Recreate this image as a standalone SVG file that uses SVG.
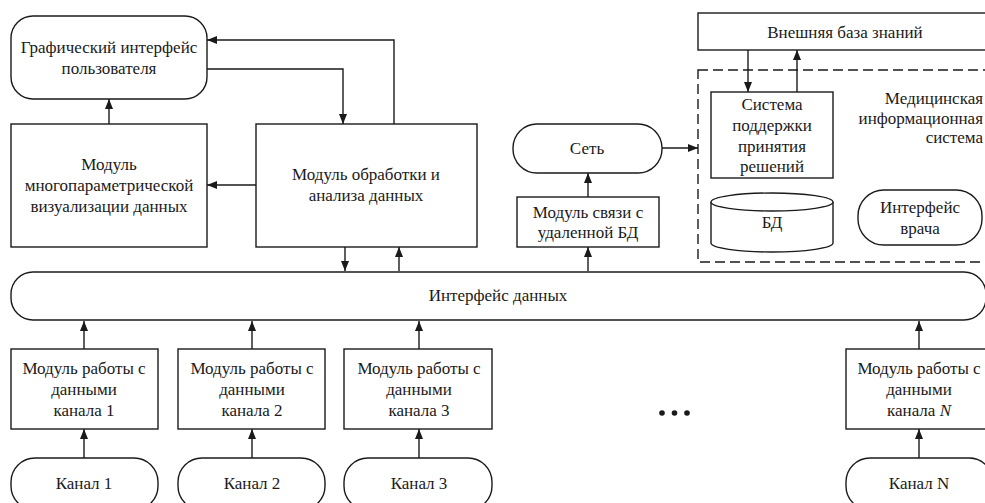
<svg xmlns="http://www.w3.org/2000/svg" width="985" height="503" viewBox="0 0 985 503">
<defs>
<marker id="ah" viewBox="0 0 10 8" refX="10" refY="4" markerWidth="10" markerHeight="8" markerUnits="userSpaceOnUse" orient="auto">
<path d="M0,0 L10,4 L0,8 Z" fill="#1a1a1a"/>
</marker>
<style>
.b{fill:#fff;stroke:#1a1a1a;stroke-width:1.4}
.d{fill:none;stroke:#1a1a1a;stroke-width:1.4;stroke-dasharray:10 5}
.c{fill:none;stroke:#1a1a1a;stroke-width:1.4;marker-end:url(#ah)}
text{font-family:"Liberation Serif","Times New Roman",serif;font-size:17px;fill:#1a1a1a;text-anchor:middle}
.e{text-anchor:end}
</style>
</defs>
<rect width="985" height="503" fill="#fff"/>
<g id="connectors">
<path class="c" d="M394,124 V40 H207"/>
<path class="c" d="M207,69 H343 V124"/>
<path class="c" d="M109,124 V99"/>
<path class="c" d="M256,185 H207"/>
<path class="c" d="M345,247 V271"/>
<path class="c" d="M399,271 V247"/>
<path class="c" d="M588,271 V247"/>
<path class="c" d="M588,197 V173"/>
<path class="c" d="M662,148 H698"/>
<path class="c" d="M748,50 V92"/>
<path class="c" d="M797,92 V50"/>
<path class="c" d="M84,349 V321"/>
<path class="c" d="M252,349 V321"/>
<path class="c" d="M419,349 V321"/>
<path class="c" d="M919,349 V321"/>
<path class="c" d="M84,458 V429"/>
<path class="c" d="M252,458 V429"/>
<path class="c" d="M419,458 V429"/>
<path class="c" d="M919,458 V429"/>
</g>
<g id="gui">
<rect class="b" x="11" y="16" width="196" height="83" rx="22"/>
<text x="109" y="53">Графический интерфейс</text>
<text x="109" y="74">пользователя</text>
</g>
<g id="vis">
<rect class="b" x="11" y="124" width="196" height="123"/>
<text x="109" y="170">Модуль</text>
<text x="109" y="191">многопараметрической</text>
<text x="109" y="212">визуализации данных</text>
</g>
<g id="proc">
<rect class="b" x="256" y="124" width="221" height="123"/>
<text x="366" y="180">Модуль обработки и</text>
<text x="366" y="201">анализа данных</text>
</g>
<g id="net">
<rect class="b" x="513" y="124" width="149" height="49" rx="24"/>
<text x="587" y="154">Сеть</text>
</g>
<g id="remote">
<rect class="b" x="517" y="197" width="142" height="50"/>
<text x="588" y="218">Модуль связи с</text>
<text x="588" y="238">удаленной БД</text>
</g>
<g id="kb">
<rect class="b" x="698" y="13" width="294" height="37"/>
<text x="845" y="38">Внешняя база знаний</text>
</g>
<g id="mis">
<rect class="d" x="698" y="70" width="300" height="192"/>
<text class="e" x="983" y="104">Медицинская</text>
<text class="e" x="983" y="124">информационная</text>
<text class="e" x="983" y="143">система</text>
</g>
<g id="dss">
<rect class="b" x="711" y="92" width="122" height="86"/>
<text x="772" y="110">Система</text>
<text x="772" y="131">поддержки</text>
<text x="772" y="152">принятия</text>
<text x="772" y="172">решений</text>
</g>
<g id="db">
<path class="b" d="M711,202 V243 A61,9 0 0 0 833,243 V202"/>
<ellipse class="b" cx="772" cy="202" rx="61" ry="9"/>
<text x="772" y="228">БД</text>
</g>
<g id="doctor">
<rect class="b" x="858" y="190" width="124" height="55" rx="26"/>
<text x="920" y="213">Интерфейс</text>
<text x="920" y="234">врача</text>
</g>
<g id="datainterface">
<rect class="b" x="11" y="272" width="975" height="48" rx="22"/>
<text x="498" y="301">Интерфейс данных</text>
</g>
<g id="mod1">
<rect class="b" x="11" y="349" width="147" height="80"/>
<text x="84" y="374">Модуль работы с</text>
<text x="84" y="395">данными</text>
<text x="84" y="416">канала 1</text>
</g>
<g id="mod2">
<rect class="b" x="178" y="349" width="147" height="80"/>
<text x="252" y="374">Модуль работы с</text>
<text x="252" y="395">данными</text>
<text x="252" y="416">канала 2</text>
</g>
<g id="mod3">
<rect class="b" x="344" y="349" width="148" height="80"/>
<text x="419" y="374">Модуль работы с</text>
<text x="419" y="395">данными</text>
<text x="419" y="416">канала 3</text>
</g>
<g id="modN">
<rect class="b" x="846" y="349" width="147" height="80"/>
<text x="919" y="374">Модуль работы с</text>
<text x="919" y="395">данными</text>
<text x="919" y="416">канала <tspan font-style="italic">N</tspan></text>
</g>
<g id="dots" fill="#1a1a1a">
<circle cx="662" cy="413" r="2.8"/>
<circle cx="674.5" cy="413" r="2.8"/>
<circle cx="687" cy="413" r="2.8"/>
</g>
<g id="ch1">
<rect class="b" x="11" y="458" width="147" height="52" rx="24"/>
<text x="84" y="489">Канал 1</text>
</g>
<g id="ch2">
<rect class="b" x="178" y="458" width="147" height="52" rx="24"/>
<text x="252" y="489">Канал 2</text>
</g>
<g id="ch3">
<rect class="b" x="344" y="458" width="148" height="52" rx="24"/>
<text x="419" y="489">Канал 3</text>
</g>
<g id="chN">
<rect class="b" x="846" y="458" width="147" height="52" rx="24"/>
<text x="919" y="489">Канал N</text>
</g>
</svg>
